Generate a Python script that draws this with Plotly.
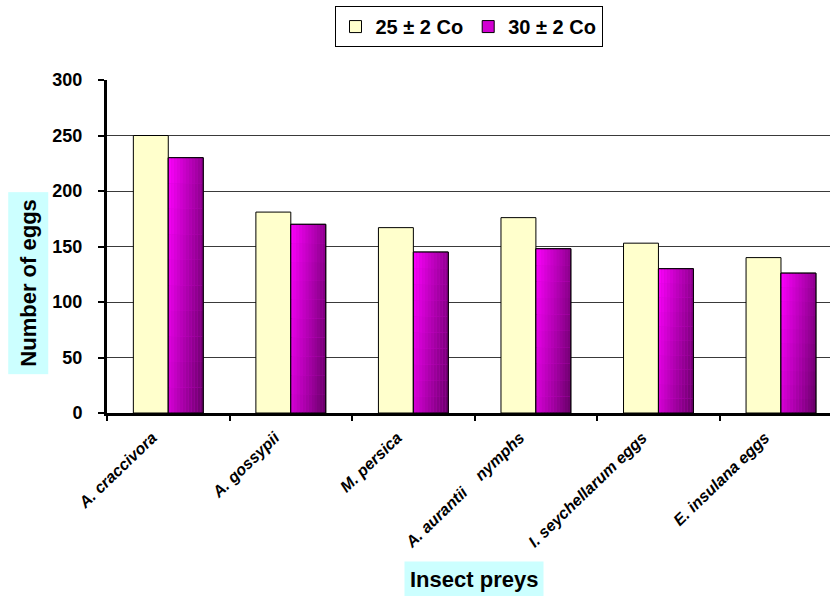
import plotly.graph_objects as go

# Data
categories = ["A. craccivora", "A. gossypii", "M. persica",
              "A. aurantii\u00a0\u00a0\u00a0\u00a0nymphs", "I. seychellarum eggs", "E. insulana eggs"]
eggs_25 = [250, 181, 167, 176, 153, 140]
eggs_30 = [230, 170, 145, 148, 130, 126]
series_names = ["25 \u00b1 2 Co", "30 \u00b1 2 Co"]

FONT = "Arial, Liberation Sans, sans-serif"
BAR_W = 0.285
YELLOW = "#FFFFCC"
C_LIGHT = (255, 0, 255)
C_DARK = (102, 0, 102)


def mix(t):
    r, g, b = (round(a + (b_ - a) * t) for a, b_ in zip(C_LIGHT, C_DARK))
    return f"rgb({r},{g},{b})"


fig = go.Figure()

# Light series
fig.add_trace(go.Bar(
    x=categories, y=eggs_25, name=series_names[0],
    offset=-BAR_W, width=BAR_W,
    marker=dict(color=YELLOW, line=dict(color="black", width=1)),
))

# Dark series: solid base (also the legend entry)
fig.add_trace(go.Bar(
    x=categories, y=eggs_30, name=series_names[1],
    offset=0, width=BAR_W,
    marker=dict(color=mix(0.3), line=dict(color="black", width=1)),
))

# Gradient shading built from a grid of cells inside each dark bar
NX, NY = 12, 10
for i in range(NX):
    for j in range(NY):
        u = (i + 0.5) / NX
        v = (j + 0.5) / NY
        t = 0.72 * u + 0.28 * (1 - v)
        fig.add_trace(go.Bar(
            x=categories,
            y=[val / NY for val in eggs_30],
            base=[val * j / NY for val in eggs_30],
            offset=BAR_W * i / NX, width=BAR_W / NX + 0.0005,
            marker=dict(color=mix(t), line=dict(width=0)),
            showlegend=False, hoverinfo="skip",
        ))

# Outline over the shaded bars
fig.add_trace(go.Bar(
    x=categories, y=eggs_30, offset=0, width=BAR_W,
    marker=dict(color="rgba(0,0,0,0)", line=dict(color="black", width=1)),
    showlegend=False, hoverinfo="skip",
))

fig.update_layout(
    width=830, height=596,
    margin=dict(l=107, r=0, t=80, b=183),
    paper_bgcolor="white", plot_bgcolor="white",
    barmode="overlay",
    showlegend=True,
    legend=dict(
        orientation="h", x=0.5, xanchor="center", y=1.222, yanchor="top",
        bordercolor="black", borderwidth=1, bgcolor="white",
        font=dict(family=FONT, size=20, color="black", weight="bold"),
        itemwidth=30, traceorder="normal",
    ),
    xaxis=dict(
        type="category", range=[-0.5, 5.4],
        showline=True, linecolor="black", linewidth=3,
        ticks="outside", tickson="boundaries", ticklen=5, tickwidth=2, tickcolor="black",
        tickangle=-44, ticklabelshift=-16, ticklabelstandoff=6,
        tickfont=dict(family=FONT, size=16, color="black", weight="bold", style="italic"),
        showgrid=False,
    ),
    yaxis=dict(
        range=[0, 300], dtick=50,
        showline=True, linecolor="black", linewidth=3,
        ticks="outside", ticklen=6, tickwidth=2, tickcolor="black",
        ticklabelstandoff=12,
        tickfont=dict(family=FONT, size=18, color="black", weight="bold"),
        showgrid=True, gridcolor="#3a3a3a", gridwidth=1,
        zeroline=False,
    ),
    annotations=[
        dict(text="Insect preys", xref="paper", yref="paper",
             x=0.508, y=-0.5, xanchor="center", yanchor="middle",
             showarrow=False, bgcolor="#CCFFFF", borderpad=5,
             font=dict(family=FONT, size=22, color="black", weight="bold")),
        dict(text="Number of eggs", xref="paper", yref="paper",
             x=-0.109, y=0.389, xanchor="center", yanchor="middle",
             textangle=-90, showarrow=False, bgcolor="#CCFFFF", borderpad=7,
             font=dict(family=FONT, size=22, color="black", weight="bold")),
    ],
)

fig.write_html("out.html")
